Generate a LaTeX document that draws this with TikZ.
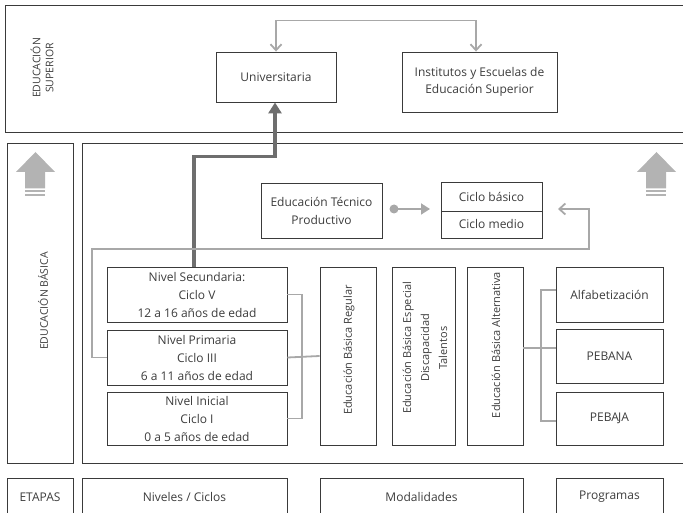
\documentclass[tikz,border=0pt]{standalone}
\usepackage{fontspec}
\setmainfont{Open Sans}
\usetikzlibrary{arrows.meta}
\definecolor{frame}{HTML}{3A3A3A}
\definecolor{txt}{HTML}{3C3C3C}
\definecolor{gline}{HTML}{A8A8A8}
\definecolor{dline}{HTML}{6E6E6E}
\definecolor{garrow}{HTML}{B3B3B3}
\tikzset{
  box/.style={draw=frame, line width=0.9pt, text=txt, align=center, inner sep=1pt,
    font=\fontsize{12}{18}\selectfont},
  frm/.style={draw=frame, line width=0.9pt},
  lbl/.style={text=txt, align=center, font=\fontsize{12}{18}\selectfont},
  rlbl/.style={text=txt, align=center, rotate=90, font=\fontsize{11}{18}\selectfont},
  caps/.style={text=txt, align=center, font=\fontsize{10.5}{13}\selectfont},
  gconn/.style={draw=gline, line width=1.8pt},
  dconn/.style={draw=dline, line width=3.6pt},
  upar/.style={fill=garrow, draw=none},
}
\begin{document}
\begin{tikzpicture}[x=1pt,y=-1pt]
\useasboundingbox (0,0) rectangle (683,513);
\clip (0,0) rectangle (683,513);
% frames
\draw[frm] (700,5) -- (5,5) -- (5,132) -- (700,132);
\node[box, minimum width=66pt, minimum height=320pt] (eb) at (40,303) {};
\draw[frm] (700,143) -- (82,143) -- (82,463) -- (700,463);
\node[caps, rotate=90] (tsup) at (42,68) {EDUCACIÓN\\SUPERIOR};
\node[caps, rotate=90] (teb) at (43,301) {EDUCACIÓN BÁSICA};
% bottom row
\node[box, minimum width=66pt, minimum height=42pt] (etapas) at (40,499) {};
\node[lbl] at (40,497) {ETAPAS};
\node[box, minimum width=205pt, minimum height=42pt] (niv) at (184.5,499) {};
\node[lbl] at (184.5,497) {Niveles / Ciclos};
\node[box, minimum width=203pt, minimum height=42pt] (mod) at (421.5,499) {};
\node[lbl] at (421.5,497) {Modalidades};
\node[box, minimum width=107pt, minimum height=42pt] (prog) at (609.5,499) {};
\node[lbl] at (609.5,497) {Programas};
% superior
\node[box, minimum width=120pt, minimum height=50pt] (uni) at (276,77) {Universitaria};
\node[box, minimum width=155pt, minimum height=60pt, font=\fontsize{12}{16.5}\selectfont] (inst) at (479.5,82) {Institutos y Escuelas de\\Educación Superior};
\draw[gconn, {Straight Barb[length=6pt,width=11pt]}-{Straight Barb[length=6pt,width=11pt]}]
  (uni.north) -- ++(0,-31) -| ([xshift=-3.5pt]inst.north);
% up arrows
\foreach \dx in {0,621}{
  \fill[upar] (16+\dx,172) -- (35.5+\dx,152) -- (55+\dx,172) -- (45+\dx,172) -- (45+\dx,188.5) -- (25+\dx,188.5) -- (25+\dx,172) -- cycle;
  \fill[upar] (25+\dx,190) rectangle (45+\dx,192.2);
  \fill[upar] (25+\dx,193.8) rectangle (45+\dx,196);
}
% tecnico
\node[box, minimum width=121pt, minimum height=55pt] (tec) at (321.5,210.5) {Educación Técnico\\Productivo};
\node[box, minimum width=101pt, minimum height=29pt] (cb) at (491.5,196.5) {Ciclo básico};
\node[box, minimum width=101pt, minimum height=27pt] (cm) at (491.5,224.5) {Ciclo medio};
\coordinate (dotp) at (394,209);
\coordinate (dtip) at (430,209);
\fill[gline] (dotp) circle (4.5pt);
\draw[gline, line width=1.8pt, -{Triangle[length=9pt,width=11pt]}] (dotp) -- (dtip);
% niveles
\node[box, minimum width=180pt, minimum height=55pt] (sec) at (197,294.5) {Nivel Secundaria:\\Ciclo V\\12 a 16 años de edad};
\node[box, minimum width=180pt, minimum height=55pt] (pri) at (197,357.5) {Nivel Primaria\\Ciclo III\\6 a 11 años de edad};
\node[box, minimum width=180pt, minimum height=53pt] (ini) at (197,418.5) {Nivel Inicial\\Ciclo I\\0 a 5 años de edad};
% modalidades
\node[box, minimum width=56pt, minimum height=178pt] (reg) at (348,356) {};
\node[rlbl] at (349,350) {Educación Básica Regular};
\node[box, minimum width=63pt, minimum height=178pt] (esp) at (423.5,356) {};
\node[rlbl] at (425,348) {Educación Básica Especial\\Discapacidad\\Talentos};
\node[box, minimum width=56pt, minimum height=178pt] (alt) at (495,356) {};
\node[rlbl] at (496,345) {Educación Básica Alternativa};
% programas
\node[box, minimum width=107pt, minimum height=55pt] (alf) at (609.5,294.5) {Alfabetización};
\node[box, minimum width=107pt, minimum height=54pt] (peb) at (609.5,356) {PEBANA};
\node[box, minimum width=107pt, minimum height=53pt] (pej) at (609.5,418.5) {PEBA\kern-0.8pt JA};
% connectors
\draw[dconn, -{Triangle[length=11pt,width=13pt]}] ([xshift=-3pt]sec.north) -- ++(0,-110) -| ([xshift=-1pt]uni.south);
\coordinate (cin) at (558,209);
\draw[gconn, -{Straight Barb[length=6pt,width=11pt]}] (pri.west) -| (92,249) -| (589,209) -- (cin);
\draw[gconn] (sec.east) -| (302,418.5) -- (ini.east);
\draw[gconn] (pri.east) -- (reg.west);
\draw[gconn] (alt.east |- 0,348) -- (peb.west |- 0,348);
\draw[gconn] (alf.west |- 0,290) -| (541,421) -- (pej.west |- 0,421);
\end{tikzpicture}
\end{document}
